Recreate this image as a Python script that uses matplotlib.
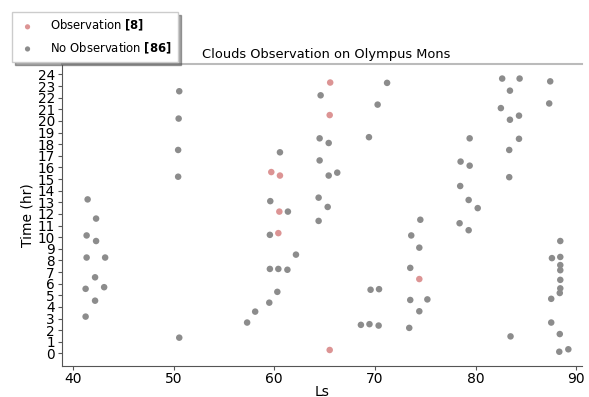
"""Clouds observation on Olympus Mons."""

import matplotlib
matplotlib.use('Agg')
import matplotlib.pyplot as plt

# %% Data

obs_ls = [65.55, 65.5, 59.7, 60.56, 60.5, 60.4, 65.5, 74.4]
obs_time = [23.3, 20.5, 15.6, 15.3, 12.2, 10.35, 0.3, 6.4]

noobs_ls = [
    50.56, 50.5, 50.45, 50.45, 41.46, 42.3, 41.36, 42.3, 41.36, 43.2,
    42.2, 41.26, 43.1, 42.2, 41.26, 50.56,
    64.6, 64.5, 65.4, 60.56, 64.5, 65.4, 66.25, 64.4, 59.6, 65.3,
    61.35, 64.4, 59.56, 62.15, 59.56, 60.4, 61.3, 60.3, 59.5, 58.1, 57.3,
    71.2, 70.26, 69.4, 79.4, 78.5, 79.4, 78.46, 79.3, 80.2, 74.5,
    78.4, 79.3, 73.6, 74.4, 73.5, 69.56, 70.4, 73.5, 75.2, 74.4,
    68.6, 69.45, 70.36, 73.4,
    82.63, 84.36, 87.4, 83.4, 87.3, 82.5, 84.3, 83.4, 84.3, 83.33,
    83.33, 88.4, 87.57, 88.4, 88.4, 88.4, 88.4, 88.4, 88.35, 87.5,
    87.5, 83.46, 88.35, 88.3, 89.2,
    ]
noobs_time = [
    22.55, 20.2, 17.5, 15.2, 13.25, 11.6, 10.15, 9.67, 8.25, 8.25,
    6.55, 5.56, 5.7, 4.54, 3.17, 1.36,
    22.2, 18.5, 18.1, 17.3, 16.6, 15.3, 15.55, 13.4, 13.1, 12.6,
    12.2, 11.4, 10.2, 8.5, 7.27, 7.27, 7.2, 5.3, 4.37, 3.6, 2.66,
    23.27, 21.4, 18.6, 18.5, 16.5, 16.15, 14.4, 13.2, 12.5, 11.5,
    11.2, 10.6, 10.15, 9.1, 7.36, 5.48, 5.53, 4.6, 4.65, 3.63,
    2.46, 2.52, 2.4, 2.2,
    23.64, 23.64, 23.4, 22.6, 21.5, 21.1, 20.45, 20.1, 18.46, 17.5,
    15.16, 9.67, 8.2, 8.3, 7.6, 7.16, 6.33, 5.6, 5.2, 4.7,
    2.66, 1.47, 1.67, 0.15, 0.36,
    ]

# %% Plot

fig = plt.figure(figsize=(5.89, 3.97), dpi=100)
ax = fig.add_axes([0.105, 0.078, 0.883, 0.761])

ax.scatter(obs_ls, obs_time, s=22, color='#dc9494', edgecolors='none',
           label=r'Observation $\bf{[%d]}$' % len(obs_ls), zorder=3)
ax.scatter(noobs_ls, noobs_time, s=22, color='#8c8c8c', edgecolors='none',
           label=r'No Observation $\bf{[%d]}$' % len(noobs_ls), zorder=3)

ax.set_xlim(38.9, 90.55)
ax.set_ylim(-1.08, 24.9)
ax.set_xticks(range(40, 91, 10))
ax.set_yticks(range(0, 25))
ax.tick_params(axis='y', labelsize=9.8, length=3, color='#555555', pad=2)
ax.tick_params(axis='x', labelsize=10, length=3, color='#555555', pad=1.5)

ax.set_xlabel('Ls', fontsize=10, labelpad=-1)
ax.set_ylabel('Time (hr)', fontsize=10, labelpad=2)
ax.set_title('Clouds Observation on Olympus Mons', fontsize=9.4, pad=4,
             x=0.508)

# Spines: light top, no right
ax.spines['right'].set_visible(False)
ax.spines['top'].set_color('#bbbbbb')
ax.spines['top'].set_linewidth(1.5)
ax.spines['left'].set_color('#555555')
ax.spines['bottom'].set_color('#555555')

fig.legend(loc='upper left', bbox_to_anchor=(0.02, 0.97), borderaxespad=0,
           fontsize=8.4, shadow=True, fancybox=False, markerscale=0.8,
           handlelength=1.6, handletextpad=1.1, borderpad=0.55,
           labelspacing=0.6, framealpha=1, edgecolor='#cccccc')

fig.savefig('out.png', dpi=100)
